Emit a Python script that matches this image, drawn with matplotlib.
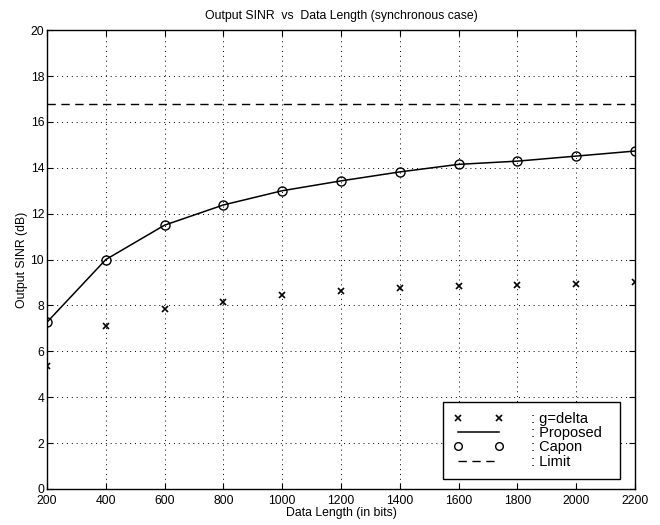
import matplotlib
matplotlib.use('Agg')
import matplotlib.pyplot as plt
import numpy as np

plt.rcParams['font.family'] = ['Liberation Sans', 'DejaVu Sans']

# 데이터 길이 (bits)
data_len = [200, 400, 600, 800, 1000, 1200, 1400, 1600, 1800, 2000, 2200]
# g=delta 출력 SINR
sinr_delta = [5.35, 7.1, 7.83, 8.17, 8.46, 8.62, 8.77, 8.83, 8.9, 8.94, 9.01]
# Proposed / Capon (같은 값)
sinr_proposed = [7.27, 10.0, 11.5, 12.38, 13.0, 13.43, 13.82, 14.15, 14.29, 14.51, 14.73]
sinr_capon = [7.27, 10.0, 11.5, 12.38, 13.0, 13.43, 13.82, 14.15, 14.29, 14.51, 14.73]
sinr_limit = 16.8

fig = plt.figure(figsize=(6.6, 5.25), dpi=100)
ax = fig.add_axes([0.0712, 0.0686, 0.891, 0.874])

ax.plot(data_len, sinr_delta, 'kx', ms=4.5, mew=1.2, ls='none', label=': g=delta  ')
ax.plot(data_len, sinr_proposed, 'k-', lw=1.1, label=': Proposed  ')
ax.plot(data_len, sinr_capon, 'ko', ms=6.5, mfc='none', mew=1.0, ls='none', label=': Capon  ')
ax.axhline(sinr_limit, color='k', ls=(0, (6, 4)), lw=1.0, label=': Limit  ')

ax.set_xlim(200, 2200)
ax.set_ylim(0, 20)
ax.set_xticks(np.arange(200, 2201, 200))
ax.set_yticks(np.arange(0, 21, 2))
ax.grid(True, color='k', ls=(0, (1, 4)), lw=0.7)
ax.tick_params(direction='in', top=True, right=True, labelsize=8.8, length=4)
ax.tick_params(axis='x', pad=4)
ax.tick_params(axis='y', pad=2)
for s in ax.spines.values():
    s.set_linewidth(1.0)

ax.set_title('Output SINR  vs  Data Length (synchronous case)', fontsize=8.8, pad=8)
ax.set_xlabel('Data Length (in bits)', fontsize=8.8, labelpad=0)
ax.set_ylabel('Output SINR (dB)', fontsize=8.8, labelpad=2)

leg = ax.legend(loc='lower right', bbox_to_anchor=(0.9745, 0.022), numpoints=2,
                handlelength=3.4, fontsize=10.5, frameon=True, fancybox=False,
                edgecolor='k', borderaxespad=0, handletextpad=1.9,
                labelspacing=0.02, borderpad=0.7, framealpha=1, markerscale=0.85)
leg.get_frame().set_linewidth(1.0)

fig.savefig('out.png', dpi=100)
